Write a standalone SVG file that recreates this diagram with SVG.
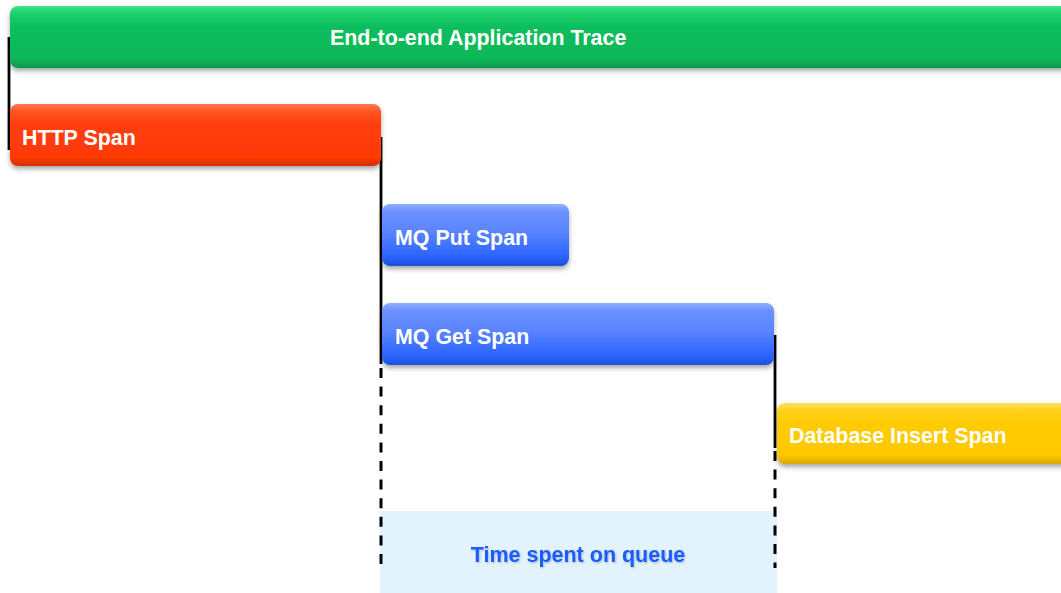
<svg xmlns="http://www.w3.org/2000/svg" width="1061" height="593" viewBox="0 0 1061 593">
  <defs>
    <linearGradient id="gGreen" x1="0" y1="0" x2="0" y2="1">
      <stop offset="0" stop-color="#3ee38c"/>
      <stop offset="0.12" stop-color="#1ecf6e"/>
      <stop offset="0.35" stop-color="#0bbd5c"/>
      <stop offset="0.85" stop-color="#09b858"/>
      <stop offset="1" stop-color="#06974a"/>
    </linearGradient>
    <linearGradient id="gRed" x1="0" y1="0" x2="0" y2="1">
      <stop offset="0" stop-color="#ff7a52"/>
      <stop offset="0.12" stop-color="#ff5424"/>
      <stop offset="0.35" stop-color="#ff3d0a"/>
      <stop offset="0.85" stop-color="#ff3a06"/>
      <stop offset="1" stop-color="#d42e00"/>
    </linearGradient>
    <linearGradient id="gBlue" x1="0" y1="0" x2="0" y2="1">
      <stop offset="0" stop-color="#8fb0ff"/>
      <stop offset="0.12" stop-color="#6c91ff"/>
      <stop offset="0.45" stop-color="#5a84ff"/>
      <stop offset="0.85" stop-color="#2a64ff"/>
      <stop offset="1" stop-color="#1d4fd8"/>
    </linearGradient>
    <linearGradient id="gYellow" x1="0" y1="0" x2="0" y2="1">
      <stop offset="0" stop-color="#ffe066"/>
      <stop offset="0.12" stop-color="#ffd21a"/>
      <stop offset="0.35" stop-color="#ffcb00"/>
      <stop offset="0.85" stop-color="#ffc800"/>
      <stop offset="1" stop-color="#d9a500"/>
    </linearGradient>
    <filter id="shadow" x="-5%" y="-20%" width="110%" height="150%">
      <feGaussianBlur in="SourceAlpha" stdDeviation="2.5"/>
      <feOffset dx="0" dy="3" result="b"/>
      <feComponentTransfer><feFuncA type="linear" slope="0.35"/></feComponentTransfer>
      <feMerge><feMergeNode/><feMergeNode in="SourceGraphic"/></feMerge>
    </filter>
    <filter id="soft" x="-5%" y="-30%" width="110%" height="160%">
      <feGaussianBlur in="SourceAlpha" stdDeviation="1"/>
      <feOffset dx="0.5" dy="1"/>
      <feComponentTransfer><feFuncA type="linear" slope="0.25"/></feComponentTransfer>
      <feMerge><feMergeNode/><feMergeNode in="SourceGraphic"/></feMerge>
    </filter>
  </defs>
  <style>
    .bar { filter: url(#shadow); }
    .label { font-family: "Liberation Sans", Arial, sans-serif; font-weight: bold; font-size: 21.4px; fill: #ffffff; }
    .queue { font-family: "Liberation Sans", Arial, sans-serif; font-weight: bold; font-size: 21.5px; fill: #1a5cff; }
    .solid { stroke: #000000; stroke-width: 2.8; fill: none; }
    .dash { stroke: #000000; stroke-width: 3; fill: none; stroke-dasharray: 10 8.6; }
  </style>

  <rect width="1061" height="593" fill="#ffffff"/>

  <!-- shaded band marking the time between put and get -->
  <g id="queue-window">
    <rect x="380" y="511" width="397" height="82" fill="#e3f3fd"/>
    <text class="queue" x="578" y="562" text-anchor="middle" filter="url(#soft)">Time spent on queue</text>
  </g>

  <!-- parent/child links between spans -->
  <g id="connectors">
    <line class="solid" x1="9" y1="37" x2="9" y2="150"/>
    <line class="solid" x1="381" y1="137" x2="381" y2="364"/>
    <line class="dash" x1="381" y1="368" x2="381" y2="568"/>
    <line class="solid" x1="775" y1="335" x2="775" y2="448"/>
    <line class="dash" x1="775" y1="451" x2="775" y2="568"/>
  </g>

  <g id="trace">
    <rect class="bar" x="10" y="6" width="1070" height="62" rx="8" fill="url(#gGreen)"/>
    <text class="label" x="330" y="45">End-to-end Application Trace</text>
  </g>

  <g id="http-span">
    <rect class="bar" x="10" y="104" width="371" height="62" rx="8" fill="url(#gRed)"/>
    <text class="label" x="22" y="145">HTTP Span</text>
  </g>

  <g id="mq-put-span">
    <rect class="bar" x="382" y="204" width="187" height="62" rx="8" fill="url(#gBlue)"/>
    <text class="label" x="395" y="245">MQ Put Span</text>
  </g>

  <g id="mq-get-span">
    <rect class="bar" x="382" y="303" width="392" height="62" rx="8" fill="url(#gBlue)"/>
    <text class="label" x="395" y="344">MQ Get Span</text>
  </g>

  <g id="db-insert-span">
    <rect class="bar" x="777" y="403" width="300" height="61" rx="8" fill="url(#gYellow)"/>
    <text class="label" x="789" y="443">Database Insert Span</text>
  </g>
</svg>
